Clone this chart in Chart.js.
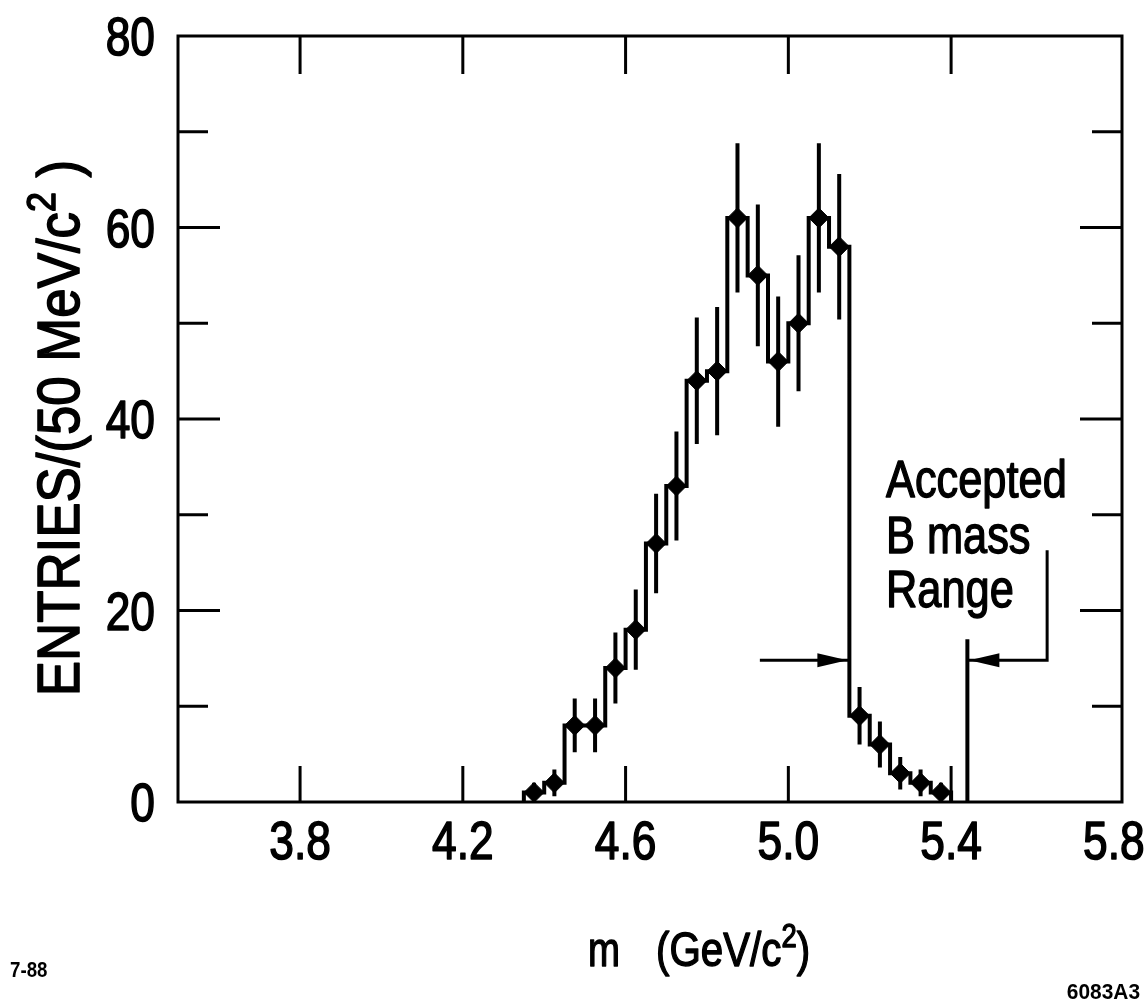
<!DOCTYPE html>
<html>
<head>
<meta charset="utf-8">
<title>ENTRIES / (50 MeV/c2) vs m</title>
<script src="https://cdn.jsdelivr.net/npm/chart.js@4.4.1/dist/chart.umd.min.js"></script>
<style>
    html, body { margin: 0; padding: 0; background: #ffffff; }
    #wrap { width: 1147px; height: 1000px; }
</style>
</head>
<body>
<div id="wrap"><canvas id="myChart" width="1147" height="1000"></canvas></div>
<script>
// --- datos ---
// centros de bin (GeV/c^2), bins de 50 MeV
const binCenters = [4.375, 4.425, 4.475, 4.525, 4.575, 4.625, 4.675, 4.725, 4.775, 4.825,
                    4.875, 4.925, 4.975, 5.025, 5.075, 5.125, 5.175, 5.225, 5.275, 5.325, 5.375];
const entries = [1, 2, 8, 8, 14, 18, 27, 33, 44, 45, 61, 55, 46, 50, 61, 58, 9, 6, 3, 2, 1];
const errors = [1, 1.4, 2.8, 2.8, 3.7, 4.2, 5.2, 5.7, 6.6, 6.7, 7.8, 7.4, 6.8, 7.1, 7.8, 7.6, 3, 2.4, 1.7, 1.4, 1];
const binWidth = 0.05;

const xTicks = [3.8, 4.2, 4.6, 5.0, 5.4, 5.8];
const yTicks = [0, 20, 40, 60, 80];
const yMinorTicks = [10, 30, 50, 70];

// rango de masa aceptado (flechas)
const acceptedLow = 5.15;
const acceptedHigh = 5.44;
const arrowLevel = 14.8;
const acceptedTop = 17;
const leftArrowStart = 4.93;
const bracketX = 5.636;
const bracketTop = 26.3;

const FONT = '"Liberation Sans", Arial, Helvetica, sans-serif';

document.addEventListener('DOMContentLoaded', () => {

    // 1. histograma escalonado a partir de los bordes de bin
    const histo = [];
    binCenters.forEach((c, i) => {
        const lo = c - binWidth / 2;
        const hi = c + binWidth / 2;
        if (i === 0) histo.push({ x: lo, y: 0 });
        histo.push({ x: lo, y: entries[i] });
        histo.push({ x: hi, y: entries[i] });
        if (i === binCenters.length - 1) histo.push({ x: hi, y: 0 });
    });

    // 2. barras de error (segmentos separados por huecos)
    const errBars = [];
    binCenters.forEach((c, i) => {
        errBars.push({ x: c, y: entries[i] - errors[i] });
        errBars.push({ x: c, y: entries[i] + errors[i] });
        errBars.push({ x: c, y: null });
    });

    const points = binCenters.map((c, i) => ({ x: c, y: entries[i] }));

    // 3. lineas del rango aceptado
    const acceptedLine = [{ x: acceptedHigh, y: 0 }, { x: acceptedHigh, y: acceptedTop }];
    const leftArrow = [{ x: leftArrowStart, y: arrowLevel }, { x: acceptedLow, y: arrowLevel }];
    const bracket = [{ x: acceptedHigh, y: arrowLevel }, { x: bracketX, y: arrowLevel }, { x: bracketX, y: bracketTop }];

    // texto condensado (tipo Helvetica Condensed), con superindices
    // el trazo extra imita el grosor de la figura escaneada
    function drawRich(ctx, parts, x, y, size, sx, align, bold, stroke) {
        const w = (bold ? 'bold ' : '');
        const supSize = size * 0.68;
        const widths = parts.map(p => {
            ctx.font = w + (p[1] ? supSize : size) + 'px ' + FONT;
            return ctx.measureText(p[0]).width;
        });
        const total = widths.reduce((a, b) => a + b, 0);
        ctx.save();
        ctx.translate(x, y);
        ctx.scale(sx, 1);
        let cx = align === 'center' ? -total / 2 : (align === 'right' ? -total : 0);
        ctx.textAlign = 'left';
        ctx.textBaseline = 'alphabetic';
        ctx.fillStyle = '#000';
        ctx.strokeStyle = '#000';
        ctx.lineJoin = 'round';
        ctx.lineWidth = stroke || 0;
        parts.forEach((p, i) => {
            ctx.font = w + (p[1] ? supSize : size) + 'px ' + FONT;
            const ty = p[1] ? -size * 0.4 : 0;
            ctx.fillText(p[0], cx, ty);
            if (stroke) ctx.strokeText(p[0], cx, ty);
            cx += widths[i];
        });
        ctx.restore();
    }

    function arrowHead(ctx, tipX, tipY, dir) {
        ctx.beginPath();
        ctx.moveTo(tipX, tipY);
        ctx.lineTo(tipX - dir * 30, tipY - 7);
        ctx.lineTo(tipX - dir * 30, tipY + 7);
        ctx.closePath();
        ctx.fill();
    }

    // 4. plugin: marco, ticks hacia dentro, etiquetas y anotaciones
    const framePlugin = {
        id: 'frame',
        afterDatasetsDraw(chart) {
            const ctx = chart.ctx;
            const a = chart.chartArea;
            const xs = chart.scales.x;
            const ys = chart.scales.y;
            ctx.save();
            ctx.strokeStyle = '#000';
            ctx.fillStyle = '#000';
            ctx.lineWidth = 3;
            ctx.strokeRect(a.left, a.top, a.right - a.left, a.bottom - a.top);

            ctx.beginPath();
            xTicks.forEach(v => {
                if (v > xs.max - 0.05) return;
                const px = xs.getPixelForValue(v);
                ctx.moveTo(px, a.bottom); ctx.lineTo(px, a.bottom - 36);
                ctx.moveTo(px, a.top); ctx.lineTo(px, a.top + 38);
            });
            yTicks.concat(yMinorTicks).forEach(v => {
                if (v === 0 || v === 80) return;
                const len = yMinorTicks.includes(v) ? 30 : 42;
                const py = ys.getPixelForValue(v);
                ctx.moveTo(a.left, py); ctx.lineTo(a.left + len, py);
                ctx.moveTo(a.right, py); ctx.lineTo(a.right - len, py);
            });
            ctx.stroke();

            // flechas del rango aceptado
            const ay = ys.getPixelForValue(arrowLevel);
            arrowHead(ctx, xs.getPixelForValue(acceptedLow) - 2, ay, 1);
            arrowHead(ctx, xs.getPixelForValue(acceptedHigh) + 2, ay, -1);

            // etiquetas de los ejes
            xTicks.forEach(v => {
                drawRich(ctx, [[v.toFixed(1)]], xs.getPixelForValue(v), 859, 54, 0.82, 'center', false, 1.6);
            });
            yTicks.forEach(v => {
                drawRich(ctx, [[String(v)]], 155, ys.getPixelForValue(v) + 19, 54, 0.82, 'right', false, 1.6);
            });

            // titulo eje y (rotado)
            ctx.save();
            ctx.translate(79, 428);
            ctx.rotate(-Math.PI / 2);
            drawRich(ctx, [['ENTRIES/(50 MeV/c'], ['2', true], [' )']], 0, 0, 60, 0.88, 'center', false, 1.6);
            ctx.restore();

            // titulo eje x
            drawRich(ctx, [['m']], 588, 966, 48, 0.8, 'left', false, 1.4);
            drawRich(ctx, [['(GeV/c'], ['2', true], [')']], 656, 966, 48, 0.84, 'left', false, 1.4);

            // texto de la anotacion
            drawRich(ctx, [['Accepted']], 886, 497, 51, 0.85, 'left', false, 1.4);
            drawRich(ctx, [['B mass']], 886, 553, 51, 0.85, 'left', false, 1.4);
            drawRich(ctx, [['Range']], 886, 607, 51, 0.85, 'left', false, 1.4);

            // marcas de la figura
            drawRich(ctx, [['7-88']], 10, 977, 22, 0.85, 'left', true);
            drawRich(ctx, [['6083A3']], 1140, 999, 22, 0.95, 'right', true);
            ctx.restore();
        }
    };

    const ctx = document.getElementById('myChart').getContext('2d');
    new Chart(ctx, {
        type: 'line',
        data: {
            datasets: [
                {
                    label: 'histo',
                    data: histo,
                    borderColor: '#000',
                    borderWidth: 4,
                    pointRadius: 0,
                    fill: false,
                    tension: 0
                },
                {
                    label: 'errors',
                    data: errBars,
                    borderColor: '#000',
                    borderWidth: 4,
                    pointRadius: 0,
                    spanGaps: false,
                    borderCapStyle: 'butt'
                },
                {
                    label: 'entries',
                    data: points,
                    showLine: false,
                    pointStyle: 'rectRot',
                    pointRadius: 10,
                    pointBackgroundColor: '#000',
                    pointBorderColor: '#000',
                    pointBorderWidth: 1
                },
                {
                    label: 'accepted',
                    data: acceptedLine,
                    borderColor: '#000',
                    borderWidth: 4,
                    pointRadius: 0
                },
                {
                    label: 'leftArrow',
                    data: leftArrow,
                    borderColor: '#000',
                    borderWidth: 3,
                    pointRadius: 0
                },
                {
                    label: 'bracket',
                    data: bracket,
                    borderColor: '#000',
                    borderWidth: 3,
                    pointRadius: 0
                }
            ]
        },
        options: {
            responsive: false,
            devicePixelRatio: 1,
            animation: false,
            layout: { padding: { left: 178, right: 25, top: 36, bottom: 198 } },
            plugins: {
                legend: { display: false },
                tooltip: { enabled: false }
            },
            scales: {
                x: { type: 'linear', min: 3.5, max: 5.82, display: false },
                y: { type: 'linear', min: 0, max: 80, display: false }
            }
        },
        plugins: [framePlugin]
    });
});
</script>
</body>
</html>
